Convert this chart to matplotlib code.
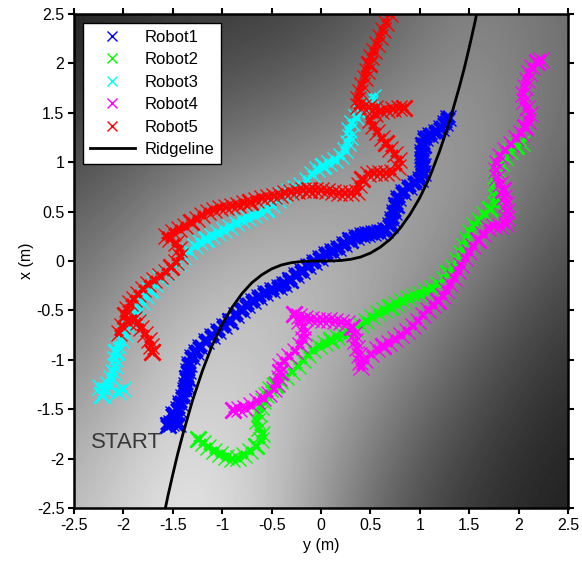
import numpy as np
import matplotlib
matplotlib.use("Agg")
import matplotlib.pyplot as plt

plt.rcParams['font.family'] = ['Liberation Sans', 'DejaVu Sans']
plt.rcParams['axes.unicode_minus'] = False

# ---- background field: gray level sampled on a 6x6 grid (rows: x from 2.5 down to -2.5; cols: y from -2.5 to 2.5)
field_axis = [-2.5, -1.5, -0.5, 0.5, 1.5, 2.5]
field_gray = [
    [0.12, 0.22, 0.23, 0.32, 0.54, 0.42],
    [0.22, 0.35, 0.42, 0.54, 0.63, 0.42],
    [0.36, 0.55, 0.66, 0.67, 0.60, 0.33],
    [0.48, 0.74, 0.78, 0.67, 0.44, 0.23],
    [0.60, 0.85, 0.80, 0.55, 0.30, 0.15],
    [0.72, 0.94, 0.80, 0.40, 0.20, 0.12],
]

# ---- ridgeline (y, x)
ridge_y = [-1.575, -1.55, -1.5, -1.45, -1.4, -1.3, -1.2, -1.1, -1.0, -0.9, -0.8, -0.7, -0.6, -0.5,
           -0.4, -0.3, -0.2, -0.1, 0.0, 0.1, 0.2, 0.3, 0.4, 0.5, 0.6, 0.7, 0.8, 0.9, 1.0, 1.1,
           1.2, 1.3, 1.4, 1.45, 1.5, 1.55, 1.575]
ridge_x = [-2.50, -2.38, -2.16, -1.95, -1.76, -1.41, -1.11, -0.85, -0.64, -0.47, -0.33, -0.22, -0.14, -0.08,
           -0.04, -0.017, -0.005, -0.001, 0.0, 0.001, 0.005, 0.017, 0.04, 0.08, 0.14, 0.22, 0.33, 0.47, 0.64, 0.85,
           1.11, 1.41, 1.76, 1.95, 2.16, 2.38, 2.50]

# ---- robot trajectories (y = horizontal, x = vertical), metres
robot1_y = [-1.55, -1.45, -1.52, -1.48, -1.50, -1.45, -1.43, -1.40, -1.38, -1.37, -1.36, -1.35, -1.34, -1.31,
            -1.27, -1.22, -1.16, -1.10, -1.04, -0.98, -0.92, -0.86, -0.80, -0.75, -0.69, -0.63, -0.57, -0.50,
            -0.43, -0.37, -0.31, -0.25, -0.19, -0.13, -0.07, -0.01, 0.05, 0.11, 0.17, 0.23, 0.29, 0.35,
            0.41, 0.47, 0.53, 0.59, 0.65, 0.70, 0.72, 0.74, 0.76, 0.78, 0.83, 0.89, 0.95, 1.00, 1.03,
            1.03, 1.02, 1.02, 1.03, 1.05, 1.10, 1.16, 1.21, 1.26, 1.29]
robot1_x = [-1.66, -1.65, -1.64, -1.60, -1.55, -1.50, -1.44, -1.38, -1.31, -1.25, -1.18, -1.11, -1.04, -0.97,
            -0.92, -0.87, -0.81, -0.76, -0.71, -0.66, -0.61, -0.55, -0.50, -0.45, -0.40, -0.36, -0.32, -0.29,
            -0.26, -0.23, -0.19, -0.14, -0.10, -0.05, -0.01, 0.03, 0.07, 0.10, 0.13, 0.17, 0.21, 0.24,
            0.26, 0.27, 0.28, 0.29, 0.31, 0.36, 0.43, 0.50, 0.57, 0.64, 0.70, 0.75, 0.79, 0.83, 0.89,
            0.96, 1.03, 1.10, 1.17, 1.24, 1.28, 1.31, 1.35, 1.40, 1.45]

robot2_y = [-1.24, -1.19, -1.14, -1.08, -1.02, -0.96, -0.90, -0.84, -0.78, -0.72, -0.66, -0.61, -0.60, -0.63,
            -0.65, -0.63, -0.61, -0.59, -0.56, -0.52, -0.47, -0.41, -0.35, -0.29, -0.23, -0.18, -0.13, -0.08,
            -0.02, 0.04, 0.10, 0.16, 0.22, 0.28, 0.34, 0.40, 0.46, 0.52, 0.58, 0.64, 0.70, 0.76, 0.82,
            0.88, 0.94, 1.00, 1.06, 1.12, 1.18, 1.24, 1.29, 1.34, 1.38, 1.42, 1.45, 1.48, 1.51, 1.55,
            1.60, 1.65, 1.71, 1.76, 1.77, 1.76, 1.76, 1.77, 1.78, 1.82, 1.86, 1.91, 1.97, 2.03]
robot2_x = [-1.80, -1.84, -1.88, -1.92, -1.95, -1.98, -2.00, -1.99, -1.96, -1.92, -1.87, -1.81, -1.75, -1.69,
            -1.62, -1.55, -1.48, -1.42, -1.36, -1.30, -1.25, -1.21, -1.17, -1.12, -1.06, -1.00, -0.95, -0.90,
            -0.86, -0.83, -0.80, -0.77, -0.75, -0.73, -0.69, -0.65, -0.61, -0.57, -0.53, -0.50, -0.47, -0.44, -0.40,
            -0.37, -0.35, -0.33, -0.30, -0.27, -0.23, -0.18, -0.12, -0.06, 0.01, 0.08, 0.15, 0.22, 0.29, 0.36,
            0.42, 0.48, 0.53, 0.58, 0.65, 0.72, 0.79, 0.86, 0.93, 0.99, 1.05, 1.11, 1.16, 1.19]

robot3_y = [-2.22, -2.18, -2.24, -2.05, -2.00, -2.16, -2.13, -2.11, -2.09, -2.08, -2.07, -2.05, -2.02, -1.98,
            -1.95, -1.92, -1.88, -1.85, -1.81, -1.77, -1.73, -1.68, -1.63, -1.57, -1.51, -1.45, -1.40, -1.34,
            -1.28, -1.22, -1.16, -1.10, -1.04, -0.98, -0.92, -0.86, -0.80, -0.74, -0.68, -0.62, -0.56, -0.50,
            -0.44, -0.38, -0.32, -0.26, -0.20, -0.14, -0.09, -0.04, 0.02, 0.08, 0.14, 0.20, 0.24, 0.27,
            0.29, 0.28, 0.31, 0.35, 0.40, 0.45, 0.50, 0.53]
robot3_x = [-1.36, -1.31, -1.28, -1.33, -1.30, -1.24, -1.18, -1.12, -1.06, -0.99, -0.92, -0.86, -0.80, -0.74,
            -0.67, -0.61, -0.55, -0.48, -0.42, -0.35, -0.29, -0.23, -0.17, -0.12, -0.07, -0.02, 0.04, 0.10,
            0.15, 0.19, 0.22, 0.25, 0.28, 0.31, 0.34, 0.38, 0.41, 0.44, 0.47, 0.50, 0.53, 0.57,
            0.62, 0.67, 0.71, 0.74, 0.77, 0.82, 0.88, 0.93, 0.96, 0.99, 1.02, 1.06, 1.12, 1.19,
            1.26, 1.33, 1.40, 1.46, 1.50, 1.55, 1.60, 1.66]

robot4_y = [-0.89, -0.83, -0.77, -0.71, -0.65, -0.59, -0.53, -0.48, -0.45, -0.43, -0.42, -0.41, -0.37, -0.32,
            -0.26, -0.21, -0.18, -0.17, -0.18, -0.22, -0.27, -0.22, -0.16, -0.10, -0.04, 0.02, 0.08, 0.14,
            0.20, 0.26, 0.31, 0.33, 0.34, 0.36, 0.38, 0.39, 0.40, 0.45, 0.51, 0.57, 0.63, 0.69, 0.75,
            0.81, 0.87, 0.93, 0.98, 1.03, 1.08, 1.13, 1.18, 1.23, 1.27, 1.31, 1.35, 1.39, 1.42, 1.46,
            1.50, 1.54, 1.59, 1.64, 1.69, 1.75, 1.81, 1.87, 1.88, 1.88, 1.87, 1.85, 1.84, 1.81, 1.78,
            1.77, 1.78, 1.81, 1.86, 1.92, 1.97, 2.02, 2.06, 2.10, 2.12, 2.08, 2.05, 2.04, 2.06, 2.08,
            2.11, 2.14, 2.19, 2.23]
robot4_x = [-1.51, -1.50, -1.49, -1.46, -1.42, -1.39, -1.35, -1.30, -1.24, -1.18, -1.12, -1.06, -1.01, -0.96,
            -0.91, -0.85, -0.79, -0.73, -0.67, -0.61, -0.54, -0.56, -0.58, -0.59, -0.60, -0.60, -0.60, -0.61,
            -0.62, -0.63, -0.67, -0.74, -0.81, -0.88, -0.95, -1.02, -1.07, -1.00, -0.94, -0.89, -0.86, -0.83, -0.79,
            -0.75, -0.71, -0.66, -0.61, -0.55, -0.50, -0.45, -0.40, -0.35, -0.29, -0.23, -0.17, -0.10, -0.04, 0.03,
            0.09, 0.15, 0.21, 0.27, 0.33, 0.35, 0.35, 0.37, 0.44, 0.51, 0.58, 0.65, 0.72, 0.78, 0.85,
            0.92, 0.99, 1.06, 1.12, 1.18, 1.24, 1.30, 1.36, 1.42, 1.49, 1.55, 1.62, 1.69, 1.76, 1.83,
            1.90, 1.96, 2.01, 2.03]

robot5_y = [-1.71, -1.72, -1.74, -1.78, -1.82, -1.85, -1.89, -1.95, -2.01, -2.04, -1.98, -1.96, -1.93, -1.89,
            -1.85, -1.80, -1.75, -1.69, -1.63, -1.57, -1.52, -1.47, -1.43, -1.44, -1.47, -1.53, -1.57, -1.50,
            -1.44, -1.38, -1.32, -1.26, -1.20, -1.14, -1.08, -1.02, -0.96, -0.90, -0.84, -0.78, -0.72, -0.66,
            -0.60, -0.54, -0.48, -0.42, -0.36, -0.30, -0.24, -0.18, -0.12, -0.06, 0.00, 0.06, 0.12, 0.18,
            0.24, 0.30, 0.36, 0.38, 0.42, 0.48, 0.54, 0.60, 0.66, 0.72, 0.78, 0.79, 0.75, 0.70, 0.66,
            0.62, 0.57, 0.53, 0.50, 0.55, 0.61, 0.67, 0.73, 0.79, 0.84, 0.55, 0.49, 0.43, 0.37, 0.37,
            0.39, 0.42, 0.45, 0.47, 0.49, 0.51, 0.54, 0.57, 0.60, 0.63, 0.66, 0.70]
robot5_x = [-0.92, -0.86, -0.80, -0.74, -0.68, -0.62, -0.59, -0.62, -0.66, -0.73, -0.55, -0.49, -0.43, -0.38,
            -0.33, -0.28, -0.23, -0.19, -0.15, -0.11, -0.06, -0.01, 0.05, 0.12, 0.18, 0.22, 0.25, 0.29,
            0.32, 0.35, 0.39, 0.43, 0.47, 0.50, 0.52, 0.54, 0.55, 0.56, 0.57, 0.59, 0.60, 0.62,
            0.64, 0.65, 0.66, 0.67, 0.69, 0.70, 0.71, 0.72, 0.72, 0.72, 0.72, 0.71, 0.70, 0.69,
            0.69, 0.69, 0.70, 0.77, 0.83, 0.88, 0.89, 0.89, 0.89, 0.90, 0.95, 1.02, 1.08, 1.13, 1.19,
            1.25, 1.31, 1.37, 1.43, 1.49, 1.52, 1.53, 1.54, 1.55, 1.55, 1.55, 1.56, 1.56, 1.57, 1.64,
            1.71, 1.78, 1.85, 1.92, 1.99, 2.06, 2.13, 2.20, 2.27, 2.34, 2.41, 2.50]

robots = [
    ("Robot1", robot1_y, robot1_x, (0, 0, 1)),
    ("Robot2", robot2_y, robot2_x, (0, 1, 0)),
    ("Robot3", robot3_y, robot3_x, (0, 1, 1)),
    ("Robot4", robot4_y, robot4_x, (1, 0, 1)),
    ("Robot5", robot5_y, robot5_x, (1, 0, 0)),
]

tick_vals = [-2.5, -2, -1.5, -1, -0.5, 0, 0.5, 1, 1.5, 2, 2.5]
tick_text = ["-2.5", "-2", "-1.5", "-1", "-0.5", "0", "0.5", "1", "1.5", "2", "2.5"]

fig = plt.figure(figsize=(5.82, 5.68), dpi=100)
ax = fig.add_axes([74 / 582, 60 / 568, 494 / 582, 494 / 568])

step = field_axis[1] - field_axis[0]
ax.imshow(np.array(field_gray), cmap="gray", vmin=0, vmax=1, interpolation="bicubic",
          extent=(field_axis[0] - step / 2, field_axis[-1] + step / 2,
                  field_axis[0] - step / 2, field_axis[-1] + step / 2),
          origin="upper", aspect="auto", zorder=0)

handles = []
for i, (name, ys, xs, col) in enumerate(robots):
    core = 11 if i == 0 else 7
    outer = 12 if i == 0 else 11
    # dense hatch of crosses around each sample
    ax.plot(ys, xs, linestyle="none", marker="x", markersize=outer, markeredgewidth=1.0,
            color=col, zorder=2)
    ax.plot(ys, xs, linestyle="none", marker="X", markersize=core, markeredgewidth=0,
            color=col, zorder=2)
    ax.plot(ys[::10], xs[::10], linestyle="none", marker="x", markersize=12, markeredgewidth=2.0,
            color=col, zorder=2)
    h, = ax.plot([], [], linestyle="none", marker="x", markersize=7, markeredgewidth=1.0,
                 color=col, label=name)
    handles.append(h)

rl, = ax.plot(ridge_y, ridge_x, color="black", linewidth=2.0, label="Ridgeline", zorder=3)
handles.append(rl)

ax.text(-1.97, -1.84, "START", fontsize=16, color="#383838", ha="center", va="center", zorder=4)

ax.set_xlim(-2.5, 2.5)
ax.set_ylim(-2.5, 2.5)
ax.set_xticks(tick_vals)
ax.set_xticklabels(tick_text)
ax.set_yticks(tick_vals)
ax.set_yticklabels(tick_text)
ax.tick_params(axis="both", direction="out", length=4, width=1.5, labelsize=11.5,
               top=True, right=True, pad=3)
for sp in ax.spines.values():
    sp.set_linewidth(1.8)
ax.set_xlabel("y (m)", fontsize=11.5, labelpad=4)
ax.set_ylabel("x (m)", fontsize=11.5, labelpad=2)

leg = ax.legend(handles=handles, loc="upper left", fontsize=12, frameon=True, fancybox=False,
                edgecolor="black", framealpha=1, borderaxespad=0.55, handlelength=2.7,
                handletextpad=0.6, labelspacing=0.45, borderpad=0.4)
leg.get_frame().set_linewidth(1.0)

fig.savefig("out.png", dpi=100)
